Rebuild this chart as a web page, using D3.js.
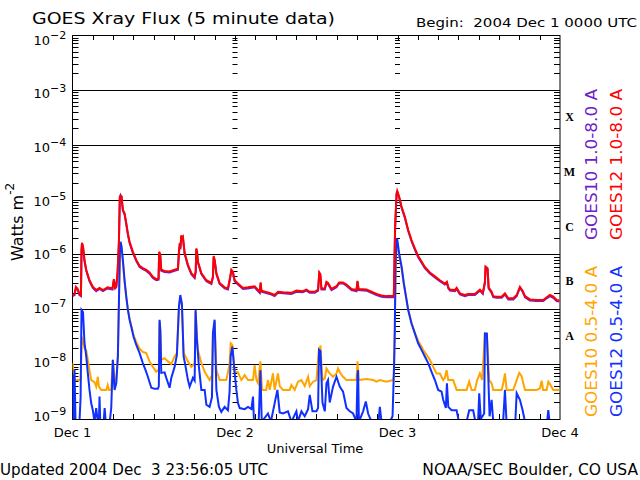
<!DOCTYPE html>
<html>
<head>
<meta charset="utf-8">
<script src="https://cdn.jsdelivr.net/npm/d3@7"></script>
<style>
  body { margin: 0; background: #fff; }
  svg text { font-family: "DejaVu Sans", sans-serif; white-space: pre; }
</style>
</head>
<body>
<div id="chart"></div>
<script>
// hours since 2004 Dec 1 00:00 UTC, log10 of flux (W m^-2)
const goes12Long = [[0,-6.74],[0.3,-6.72],[0.5,-6.59],[0.74,-6.62],[1.03,-6.72],[1.25,-6.74],[1.33,-5.92],[1.4,-5.79],[1.55,-5.85],[1.77,-6.1],[2.03,-6.28],[2.51,-6.47],[3,-6.59],[3.5,-6.65],[3.99,-6.61],[4.5,-6.65],[5.17,-6.6],[5.9,-6.62],[6.11,-6.45],[6.3,-6.6],[6.46,-6.58],[6.65,-6.34],[6.85,-5.79],[6.99,-4.95],[7.1,-4.93],[7.24,-4.94],[7.44,-5.19],[7.69,-5.25],[7.94,-5.43],[8.18,-5.62],[8.43,-5.77],[8.91,-5.95],[9.42,-6.1],[9.91,-6.21],[10.39,-6.25],[10.9,-6.28],[11.38,-6.33],[11.87,-6.41],[12.37,-6.45],[12.71,-6.44],[12.8,-5.95],[12.95,-6],[13.11,-6.28],[13.6,-6.3],[14.34,-6.31],[15.08,-6.28],[15.57,-6.26],[15.72,-5.95],[15.82,-5.83],[15.95,-5.85],[16.07,-5.65],[16.2,-5.7],[16.31,-5.68],[16.56,-5.97],[17.05,-6.19],[17.55,-6.34],[18.04,-6.41],[18.2,-6.3],[18.29,-5.89],[18.4,-5.95],[18.52,-6.13],[19.03,-6.34],[19.77,-6.47],[20.51,-6.52],[20.74,-6.4],[20.85,-6.03],[21,-6.1],[21.25,-6.34],[21.73,-6.52],[22.47,-6.6],[22.96,-6.62],[23.3,-6.4],[23.46,-6.28],[23.7,-6.32],[23.95,-6.47],[24.44,-6.53],[25.18,-6.61],[25.9,-6.6],[26.9,-6.58],[27.65,-6.68],[27.79,-6.51],[27.9,-6.66],[29.12,-6.7],[29.86,-6.74],[30.35,-6.68],[31.09,-6.69],[32.33,-6.7],[33.07,-6.66],[34,-6.67],[34.55,-6.64],[35.04,-6.68],[35.78,-6.68],[36.27,-6.64],[36.45,-6.33],[36.6,-6.36],[36.77,-6.62],[37.26,-6.62],[37.5,-6.5],[37.74,-6.52],[38.25,-6.63],[38.99,-6.58],[39.37,-6.51],[39.96,-6.51],[40.46,-6.55],[41.2,-6.63],[41.94,-6.65],[42.09,-6.48],[42.25,-6.63],[43.42,-6.64],[44.16,-6.68],[44.9,-6.72],[45.64,-6.75],[46.38,-6.76],[47.35,-6.76],[47.46,-6.74],[47.65,-5.49],[47.86,-4.89],[47.95,-4.84],[48.24,-4.95],[48.6,-5.13],[49.08,-5.31],[49.57,-5.55],[50.07,-5.74],[50.56,-5.89],[51.05,-6.03],[51.55,-6.13],[52.04,-6.23],[52.78,-6.33],[53.52,-6.4],[54.26,-6.47],[55,-6.53],[55.3,-6.5],[55.5,-6.6],[55.74,-6.64],[56.48,-6.65],[56.73,-6.61],[57.22,-6.71],[57.95,-6.74],[58.44,-6.72],[59.43,-6.72],[60.17,-6.64],[60.6,-6.7],[60.91,-6.5],[61.01,-6.22],[61.3,-6.25],[61.46,-6.6],[61.9,-6.68],[62.14,-6.76],[62.64,-6.77],[63.38,-6.77],[63.87,-6.71],[64.36,-6.8],[65.1,-6.8],[65.6,-6.74],[66.08,-6.59],[66.48,-6.66],[66.83,-6.76],[67.56,-6.82],[68.55,-6.83],[69.53,-6.83],[70.03,-6.78],[70.52,-6.74],[71.01,-6.77],[71.51,-6.83],[71.9,-6.84]];

const goes10Long = [[0,-6.76],[0.3,-6.74],[0.5,-6.61],[0.74,-6.64],[1.03,-6.74],[1.25,-6.76],[1.33,-5.94],[1.4,-5.8],[1.55,-5.87],[1.77,-6.12],[2.03,-6.3],[2.51,-6.49],[3,-6.61],[3.5,-6.67],[3.99,-6.63],[4.5,-6.67],[5.17,-6.62],[5.9,-6.64],[6.11,-6.47],[6.3,-6.62],[6.46,-6.6],[6.65,-6.36],[6.85,-5.81],[6.99,-4.97],[7.1,-4.92],[7.24,-4.95],[7.44,-5.2],[7.69,-5.27],[7.94,-5.45],[8.18,-5.64],[8.43,-5.79],[8.91,-5.97],[9.42,-6.12],[9.91,-6.23],[10.39,-6.27],[10.9,-6.3],[11.38,-6.35],[11.87,-6.43],[12.37,-6.47],[12.71,-6.46],[12.8,-5.97],[12.95,-6.02],[13.11,-6.3],[13.6,-6.32],[14.34,-6.33],[15.08,-6.3],[15.57,-6.28],[15.72,-5.97],[15.82,-5.85],[15.95,-5.87],[16.07,-5.67],[16.2,-5.72],[16.31,-5.7],[16.56,-5.99],[17.05,-6.21],[17.55,-6.36],[18.04,-6.43],[18.2,-6.32],[18.29,-5.91],[18.4,-5.97],[18.52,-6.15],[19.03,-6.36],[19.77,-6.49],[20.51,-6.54],[20.74,-6.42],[20.85,-6.05],[21,-6.12],[21.25,-6.36],[21.73,-6.54],[22.47,-6.62],[22.96,-6.64],[23.3,-6.42],[23.46,-6.3],[23.7,-6.34],[23.95,-6.49],[24.44,-6.55],[25.18,-6.63],[25.9,-6.62],[26.9,-6.6],[27.65,-6.7],[27.79,-6.53],[27.9,-6.68],[29.12,-6.72],[29.86,-6.76],[30.35,-6.7],[31.09,-6.71],[32.33,-6.72],[33.07,-6.68],[34,-6.69],[34.55,-6.66],[35.04,-6.7],[35.78,-6.7],[36.27,-6.66],[36.45,-6.35],[36.6,-6.38],[36.77,-6.64],[37.26,-6.64],[37.5,-6.52],[37.74,-6.54],[38.25,-6.65],[38.99,-6.6],[39.37,-6.53],[39.96,-6.53],[40.46,-6.57],[41.2,-6.65],[41.94,-6.67],[42.09,-6.5],[42.25,-6.65],[43.42,-6.66],[44.16,-6.7],[44.9,-6.74],[45.64,-6.77],[46.38,-6.78],[47.35,-6.78],[47.46,-6.76],[47.65,-5.51],[47.86,-4.91],[47.95,-4.85],[48.24,-4.96],[48.6,-5.15],[49.08,-5.33],[49.57,-5.57],[50.07,-5.76],[50.56,-5.91],[51.05,-6.05],[51.55,-6.15],[52.04,-6.25],[52.78,-6.35],[53.52,-6.42],[54.26,-6.49],[55,-6.55],[55.3,-6.52],[55.5,-6.62],[55.74,-6.66],[56.48,-6.67],[56.73,-6.63],[57.22,-6.73],[57.95,-6.76],[58.44,-6.74],[59.43,-6.74],[60.17,-6.66],[60.6,-6.72],[60.91,-6.52],[61.01,-6.24],[61.3,-6.27],[61.46,-6.62],[61.9,-6.7],[62.14,-6.78],[62.64,-6.79],[63.38,-6.79],[63.87,-6.73],[64.36,-6.82],[65.1,-6.82],[65.6,-6.76],[66.08,-6.61],[66.48,-6.68],[66.83,-6.78],[67.56,-6.84],[68.55,-6.85],[69.53,-6.85],[70.03,-6.8],[70.52,-6.76],[71.01,-6.79],[71.51,-6.85],[71.9,-6.86]];

const goes12Short = [[0,-8.2],[0.15,-9.05],[0.3,-8.1],[0.45,-9.05],[1.03,-9.05],[1.2,-8.6],[1.33,-7.01],[1.55,-7.05],[1.77,-7.61],[2.03,-7.86],[2.26,-8.16],[2.51,-8.47],[2.76,-8.71],[3,-8.84],[3.25,-9.05],[3.5,-8.8],[3.74,-9.05],[3.9,-9.05],[3.99,-8.59],[4.1,-9.05],[4.6,-9.05],[4.75,-8.8],[4.9,-9.05],[5.5,-9.05],[5.72,-8.8],[5.96,-7.92],[6.21,-8.47],[6.46,-8.35],[6.7,-7.86],[6.85,-6.9],[6.99,-6],[7.1,-5.77],[7.24,-5.85],[7.44,-6.1],[7.69,-6.47],[7.94,-6.77],[8.18,-7.01],[8.43,-7.19],[8.68,-7.32],[9.02,-7.5],[9.42,-7.65],[9.91,-7.8],[10.39,-7.98],[10.79,-8.11],[11.13,-8.23],[11.64,-8.43],[12.12,-8.45],[12.61,-8.45],[12.75,-8.4],[12.86,-7.19],[12.98,-7.4],[13.11,-8.16],[13.6,-8.15],[13.85,-8.25],[14.34,-8.43],[14.59,-8.25],[15.08,-8.05],[15.42,-7.83],[15.72,-6.95],[15.92,-6.74],[16.16,-6.9],[16.41,-7.86],[16.71,-8.05],[17.05,-8.29],[17.3,-8.41],[17.79,-8.25],[18.04,-8.3],[18.18,-7.01],[18.38,-7.56],[18.67,-8.05],[19.03,-8.47],[19.52,-8.47],[19.77,-8.74],[20.25,-8.78],[20.6,-8.6],[20.74,-7.44],[20.99,-7.19],[21.25,-8.47],[21.63,-8.78],[21.98,-8.87],[22.47,-8.78],[22.96,-8.84],[23.2,-8.5],[23.36,-7.86],[23.61,-7.68],[23.95,-8.16],[24.2,-8.47],[24.44,-8.71],[24.69,-8.8],[25.43,-8.82],[25.92,-8.78],[26.42,-8.82],[26.66,-8.59],[26.8,-9.05],[27.5,-9.05],[27.75,-8.11],[27.95,-9.05],[28.87,-8.9],[29.3,-9.05],[29.86,-8.71],[30.26,-8.47],[30.6,-8.88],[31.09,-8.9],[31.83,-8.86],[32.33,-9.05],[33.07,-8.86],[33.3,-9.05],[33.81,-8.86],[34.3,-8.95],[34.79,-8.82],[35.04,-8.56],[35.44,-8.86],[36.03,-8.86],[36.27,-8.8],[36.41,-7.74],[36.62,-7.76],[36.92,-8.7],[37.26,-8.86],[37.51,-8.35],[37.74,-8.29],[37.99,-8.7],[38.48,-8.41],[38.99,-8.23],[39.47,-8.41],[39.96,-8.5],[40.21,-8.65],[40.46,-8.8],[40.95,-8.86],[41.44,-8.9],[41.94,-9.05],[42.09,-8.2],[42.18,-8.11],[42.3,-9.05],[42.92,-8.86],[43.32,-8.68],[43.66,-8.9],[44.16,-9.05],[45.2,-9.05],[45.39,-8.78],[45.64,-9.05],[46.87,-9.05],[47.27,-8.95],[47.5,-8],[47.6,-7.38],[47.71,-6.2],[47.86,-5.74],[47.95,-5.71],[48.24,-5.98],[48.6,-6.22],[48.94,-6.53],[49.34,-6.83],[49.57,-7.01],[50.07,-7.26],[50.56,-7.44],[51.05,-7.62],[51.55,-7.74],[52.04,-7.86],[52.53,-7.98],[53.03,-8.14],[53.52,-8.29],[54.01,-8.47],[54.51,-8.5],[54.75,-8.65],[55.14,-8.8],[55.3,-8.35],[55.5,-8.78],[55.99,-8.84],[56.73,-8.84],[57.07,-9.05],[58.2,-9.05],[58.59,-8.84],[59.18,-8.84],[59.5,-9.05],[59.9,-9.05],[60.07,-8.53],[60.3,-9],[60.8,-8.9],[60.91,-7.44],[61.2,-7.44],[61.4,-8.2],[61.6,-8.95],[61.9,-8.65],[62.14,-9.05],[63.6,-9.05],[63.87,-8.47],[64.1,-9.05],[65.4,-9.05],[65.6,-8.53],[66.08,-8.65],[66.48,-8.84],[66.83,-9.05],[70.1,-9.05],[70.27,-8.84],[70.45,-9.05],[71.9,-9.05]];

const goes10Short = [[0,-7.98],[0.3,-8.29],[1.2,-8.29],[1.4,-7.5],[1.6,-7.6],[1.77,-7.71],[2.03,-7.75],[2.51,-8.11],[2.76,-8.29],[3.25,-8.33],[3.5,-8.41],[3.74,-8.23],[3.9,-8.41],[4.24,-8.47],[5,-8.47],[5.2,-8.38],[5.4,-8.47],[5.72,-8.47],[5.96,-7.92],[6.21,-8.29],[6.46,-8.3],[6.7,-7.86],[6.85,-6.95],[6.99,-6.05],[7.1,-5.82],[7.24,-5.9],[7.44,-6.14],[7.69,-6.5],[7.94,-6.78],[8.18,-7],[8.43,-7.17],[8.68,-7.3],[9.02,-7.47],[9.42,-7.6],[9.91,-7.72],[10.39,-7.78],[10.9,-7.8],[11.38,-7.95],[11.87,-8.05],[12.37,-8.14],[12.75,-8.1],[12.86,-7.22],[12.98,-7.4],[13.11,-7.92],[13.6,-7.89],[14.09,-7.95],[14.59,-8],[15.08,-7.86],[15.42,-7.8],[15.72,-6.98],[15.92,-6.78],[16.16,-6.92],[16.41,-7.8],[16.56,-7.83],[17.05,-7.95],[17.55,-8.05],[18.04,-7.98],[18.18,-7.05],[18.38,-7.5],[18.52,-7.74],[19.03,-7.98],[19.52,-8.14],[20.25,-8.29],[20.6,-8.2],[20.74,-7.48],[20.99,-7.22],[21.25,-8.11],[21.73,-8.29],[22.72,-8.29],[23.2,-8],[23.36,-7.62],[23.61,-7.65],[23.95,-8.14],[24.44,-8.15],[24.94,-8.29],[25.43,-8.2],[25.92,-8.29],[26.66,-8.29],[26.91,-8.02],[27.16,-8.29],[27.4,-8.35],[27.75,-7.95],[27.99,-8.47],[28.6,-8.47],[28.87,-8.29],[29.12,-8.47],[29.61,-8.17],[29.86,-8.47],[30.35,-8.17],[30.6,-8.4],[31.09,-8.47],[32.08,-8.47],[32.33,-8.38],[32.82,-8.47],[33.31,-8.32],[33.81,-8.29],[34.3,-8.4],[34.79,-8.23],[35.04,-8.4],[35.53,-8.32],[36.03,-8.29],[36.41,-7.7],[36.62,-7.68],[36.92,-8.29],[37.26,-8.26],[37.51,-8.08],[37.99,-8.17],[38.48,-8.23],[38.99,-8.17],[39.22,-8.08],[39.58,-8.17],[39.96,-8.23],[40.46,-8.29],[41.94,-8.29],[42.09,-7.95],[42.25,-8.29],[43.42,-8.27],[44.4,-8.29],[44.9,-8.32],[45.39,-8.29],[46.38,-8.32],[47.35,-8.29],[47.46,-8.2],[47.6,-7.4],[47.71,-6.3],[47.86,-5.8],[47.95,-5.78],[48.24,-6.02],[48.6,-6.25],[48.94,-6.55],[49.34,-6.84],[49.57,-7],[50.07,-7.25],[50.56,-7.42],[51.05,-7.58],[51.55,-7.68],[51.79,-7.74],[52.29,-7.83],[52.78,-7.92],[53.27,-8.05],[53.77,-8.17],[54.26,-8.17],[54.75,-8.29],[55,-8.25],[55.25,-8.11],[55.5,-8.29],[56.22,-8.29],[56.73,-8.47],[58.2,-8.47],[58.59,-8.32],[58.95,-8.47],[59.43,-8.47],[59.77,-8.29],[60.17,-8.17],[60.5,-8.29],[60.91,-7.44],[61.2,-7.46],[61.55,-8.29],[61.9,-8.35],[62.14,-8.47],[63.38,-8.47],[63.62,-8.35],[63.87,-8.17],[64.12,-8.47],[65.1,-8.47],[65.6,-8.29],[65.98,-8.16],[66.33,-8.22],[66.83,-8.47],[68.55,-8.47],[69.04,-8.44],[69.3,-8.3],[69.5,-8.47],[70.03,-8.47],[70.27,-8.32],[70.5,-8.36],[71.01,-8.47],[71.9,-8.47]];

const dayLabels = ['Dec 1', 'Dec 2', 'Dec 3', 'Dec 4'];
const yTickExps = [-2, -3, -4, -5, -6, -7, -8, -9];
const classLetters = ['A', 'B', 'C', 'M', 'X'];
const classExps = [-8, -7, -6, -5, -4];

const W = 640, H = 480;
const svg = d3.select('#chart').append('svg')
    .attr('width', W).attr('height', H);

svg.append('rect').attr('width', W).attr('height', H).attr('fill', '#fff');

// scales
const x = d3.scaleLinear().domain([0, 72]).range([72.5, 560]);
const y = d3.scaleLog().domain([1e-9, 1e-2]).range([419, 35]);
const px = v => Math.round(v) + 0.5;

// clip for the data
svg.append('clipPath').attr('id', 'plot')
   .append('rect')
   .attr('x', x(0)).attr('y', y(1e-2))
   .attr('width', x(72) - x(0)).attr('height', y(1e-9) - y(1e-2));

const axes = svg.append('g').attr('stroke', '#000').attr('stroke-width', 1);

// decade grid lines
yTickExps.slice(1, -1).forEach(e => {
  axes.append('line')
      .attr('x1', x(0)).attr('x2', x(72))
      .attr('y1', px(y(Math.pow(10, e)))).attr('y2', px(y(Math.pow(10, e))));
});

// minor ticks: left, right, and on day boundaries
const minors = [];
for (let e = -9; e < -2; e++) {
  for (let m = 2; m <= 9; m++) minors.push(m * Math.pow(10, e));
}
minors.forEach(v => {
  const yy = px(y(v));
  axes.append('line').attr('x1', x(0)).attr('x2', x(0) + 6).attr('y1', yy).attr('y2', yy);
  axes.append('line').attr('x1', x(72) - 6).attr('x2', x(72)).attr('y1', yy).attr('y2', yy);
  [24, 48].forEach(h => {
    axes.append('line').attr('x1', x(h) - 2.5).attr('x2', x(h) + 2.5).attr('y1', yy).attr('y2', yy);
  });
});

// hour ticks along top and bottom, every 3 hours
d3.range(3, 72, 3).forEach(h => {
  const xx = px(x(h));
  axes.append('line').attr('x1', xx).attr('x2', xx).attr('y1', y(1e-2)).attr('y2', y(1e-2) + 5);
  axes.append('line').attr('x1', xx).attr('x2', xx).attr('y1', y(1e-9)).attr('y2', y(1e-9) - 5);
});

// frame
axes.append('rect')
    .attr('x', x(0)).attr('y', px(y(1e-2)))
    .attr('width', x(72) - x(0)).attr('height', Math.round(y(1e-9) - y(1e-2)))
    .attr('fill', 'none');

// data lines
const line = d3.line()
    .x(d => x(d[0]))
    .y(d => y(Math.pow(10, d[1])));

const series = [
  {data: goes10Short, color: '#ffa500'},
  {data: goes12Short, color: '#1030ff'},
  {data: goes10Long, color: '#7020c8'},
  {data: goes12Long, color: '#ff0000'}
];
const plot = svg.append('g').attr('clip-path', 'url(#plot)');
series.forEach(s => {
  plot.append('path')
      .attr('d', line(s.data))
      .attr('fill', 'none')
      .attr('stroke', s.color)
      .attr('stroke-width', 2)
      .attr('stroke-linejoin', 'miter');
});

// y tick labels, 10^n
yTickExps.forEach(e => {
  const yy = y(Math.pow(10, e));
  const cy = 40 + (yy - 35) * 376 / 384;
  svg.append('text').attr('x', 50).attr('y', cy + 4.5)
     .attr('font-size', 13).attr('text-anchor', 'end').text('10');
  svg.append('text').attr('x', 50).attr('y', cy - 1.5)
     .attr('font-size', 11).text('\u2212' + Math.abs(e));
});

// flare class letters
classLetters.forEach((c, i) => {
  svg.append('text')
     .attr('x', 569.5)
     .attr('y', y(Math.pow(10, classExps[i] + 0.5)) + 3.5)
     .attr('text-anchor', 'middle')
     .style('font-family', '"Liberation Serif", "DejaVu Serif", serif')
     .attr('font-weight', 'bold')
     .attr('font-size', 12)
     .text(c);
});

// day labels
dayLabels.forEach((d, i) => {
  svg.append('text').attr('x', x(i * 24)).attr('y', 437)
     .attr('text-anchor', 'middle').attr('font-size', 13).text(d);
});

svg.append('text').attr('x', 315).attr('y', 453)
   .attr('text-anchor', 'middle').attr('font-size', 13).text('Universal Time');

// titles
svg.append('text').attr('x', 32).attr('y', 24).attr('font-size', 16.5)
   .attr('textLength', 303).attr('lengthAdjust', 'spacingAndGlyphs')
   .text('GOES Xray Flux (5 minute data)');
svg.append('text').attr('x', 416).attr('y', 27).attr('font-size', 12.5)
   .attr('textLength', 221).attr('lengthAdjust', 'spacingAndGlyphs')
   .text('Begin:  2004 Dec 1 0000 UTC');
svg.append('text').attr('x', 0).attr('y', 475).attr('font-size', 15.5)
   .attr('textLength', 268).attr('lengthAdjust', 'spacingAndGlyphs')
   .text('Updated 2004 Dec  3 23:56:05 UTC');
svg.append('text').attr('x', 638).attr('y', 475).attr('font-size', 15.5)
   .attr('text-anchor', 'end')
   .text('NOAA/SEC Boulder, CO USA');

// y axis title
const yt = svg.append('text')
    .attr('transform', 'translate(23,261) rotate(-90)')
    .attr('font-size', 16);
yt.append('tspan').text('Watts m');
yt.append('tspan').attr('dy', -9).attr('font-size', 12).text('-2');

// channel legends on the right
const legends = [
  {text: 'GOES10 1.0-8.0 A', color: '#7020c8', x: 597, y: 240},
  {text: 'GOES12 1.0-8.0 A', color: '#ff0000', x: 622, y: 240},
  {text: 'GOES10 0.5-4.0 A', color: '#ffa500', x: 597, y: 417},
  {text: 'GOES12 0.5-4.0 A', color: '#1030ff', x: 622, y: 417}
];
legends.forEach(l => {
  svg.append('text')
     .attr('transform', `translate(${l.x},${l.y}) rotate(-90)`)
     .attr('font-size', 15)
     .attr('fill', l.color)
     .attr('textLength', 151).attr('lengthAdjust', 'spacingAndGlyphs')
     .text(l.text);
});
</script>
</body>
</html>
